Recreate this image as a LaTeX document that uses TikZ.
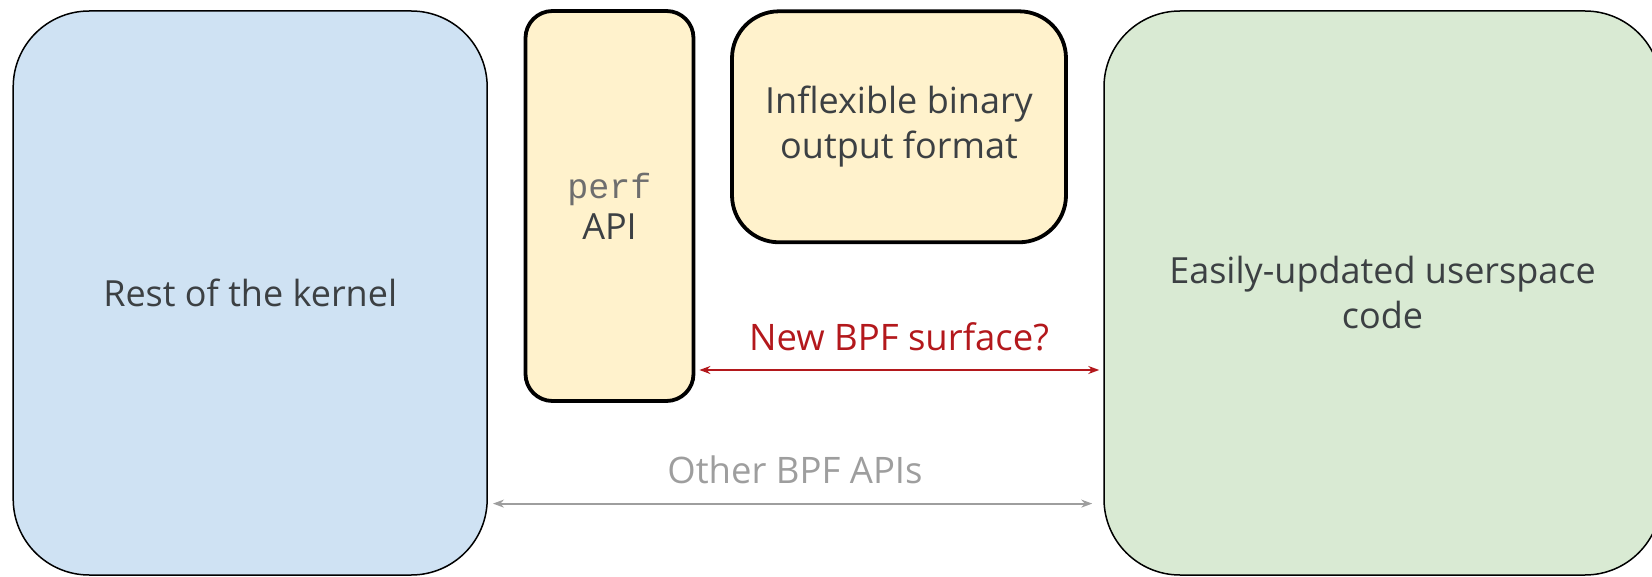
\documentclass[tikz,border=0pt]{standalone}
\usepackage{fontspec}
\setmainfont{Open Sans}
\newfontfamily\monofont{Liberation Mono}
\usetikzlibrary{arrows.meta}
\definecolor{txt}{HTML}{3C4043}
\definecolor{kblue}{HTML}{CFE2F3}
\definecolor{kyel}{HTML}{FFF2CC}
\definecolor{kgreen}{HTML}{D9EAD3}
\definecolor{kred}{HTML}{B3181C}
\definecolor{kgray}{HTML}{9E9E9E}
\definecolor{kmono}{HTML}{6E6E6E}
\tikzset{
  bigbox/.style={draw=black, line width=1.5pt, rounded corners=76pt, inner sep=0pt, text=txt, align=center,
    font=\fontsize{36}{45}\selectfont},
  smallbox/.style={draw=black, line width=3.8pt, fill=kyel, inner sep=0pt, text=txt, align=center,
    font=\fontsize{36}{45}\selectfont},
  redarrow/.style={draw=kred, line width=1.8pt, {Stealth[length=11pt,width=8pt]}-{Stealth[length=11pt,width=8pt]}},
  grayarrow/.style={draw=kgray, line width=1.8pt, {Stealth[length=11pt,width=8pt]}-{Stealth[length=11pt,width=8pt]}},
  lbl/.style={font=\fontsize{36.5}{40}\selectfont, inner sep=0pt}
}
\begin{document}
\begin{tikzpicture}[x=1pt,y=-1pt]
\useasboundingbox (0,0) rectangle (1652,577);
\node[bigbox, fill=kblue, minimum width=474pt, minimum height=564pt] (kernel) at (250.2,293) {Rest of the kernel};
\node[bigbox, fill=kgreen, minimum width=557pt, minimum height=564pt] (user) at (1382.5,293) {Easily-updated userspace\\code};
\node[smallbox, rounded corners=27pt, minimum width=168pt, minimum height=390pt] (perf) at (609.5,206)
  {{\monofont\color{kmono}\fontsize{35}{40}\selectfont perf}\\[-4pt]API};
\node[smallbox, rounded corners=47pt, minimum width=334pt, minimum height=231pt] (inflex) at (899,126.8)
  {Inflexible binary\\output format};
\coordinate (ry) at (0,370);
\coordinate (gy) at (0,503.6);
\draw[redarrow] ([xshift=4pt]perf.east |- ry) -- ([xshift=-4pt]user.west |- ry);
\draw[grayarrow] ([xshift=5pt]kernel.east |- gy) -- ([xshift=-11pt]user.west |- gy);
\node[lbl, text=kred] (newlbl) at (899,337) {New BPF surface?};
\node[lbl, text=kgray] (otherlbl) at (795,470) {Other BPF APIs};
\end{tikzpicture}
\end{document}
